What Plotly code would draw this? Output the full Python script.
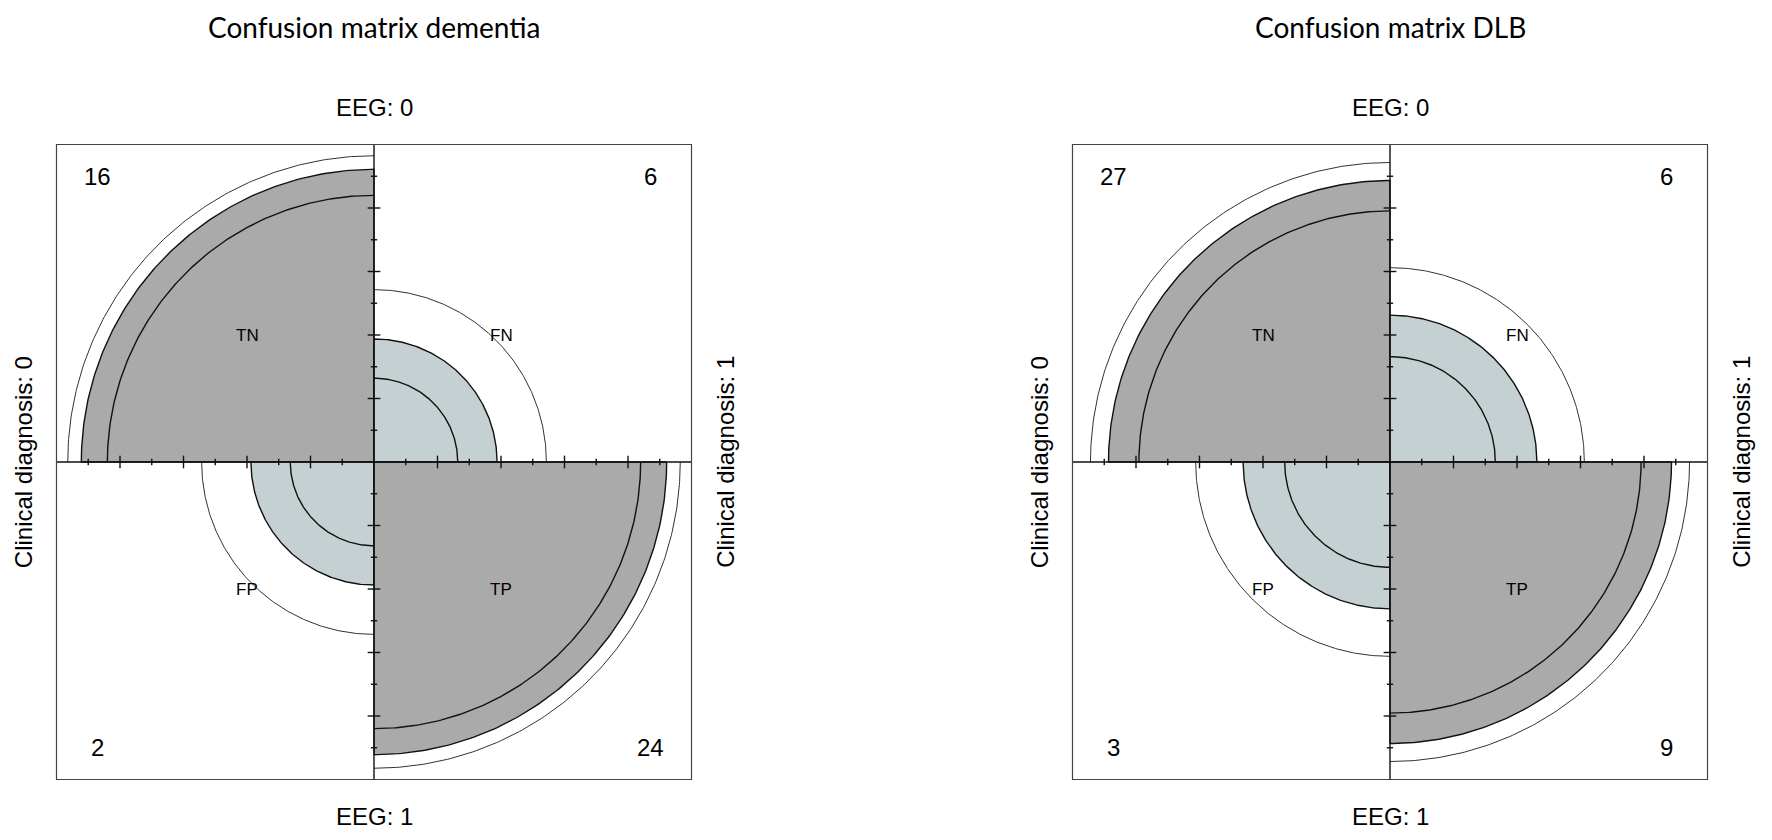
import numpy as np
import plotly.graph_objects as go

# fourfold plots of two confusion matrices (R fourfoldplot style)
# cells in the order: top-left, top-right, bottom-left, bottom-right
cell_labels = ["TN", "FN", "FP", "TP"]
dementia_counts = [16, 6, 2, 24]
dlb_counts = [27, 6, 3, 9]
panel_titles = ["Confusion matrix dementia", "Confusion matrix DLB"]
top_label, bottom_label = "EEG: 0", "EEG: 1"
left_label, right_label = "Clinical diagnosis: 0", "Clinical diagnosis: 1"

# the page body has an 8px margin, so the figure is a bit smaller than the window
W, H = 1756, 824
px = 317.5                      # pixels per unit
centers = [(366, 454), (1382, 454)]
diag_col = "#AAAAAA"
off_col = "#C5D0D3"

# angle range and sign of each quadrant
quads = [(90, 180, -1, 1), (0, 90, 1, 1), (180, 270, -1, -1), (270, 360, 1, -1)]


def radii(odds):
    # margins standardised table with given odds ratio
    s = np.sqrt(odds)
    u = s / (1 + s)
    return np.sqrt(u), np.sqrt(1 - u)


def arc(r, a0, a1, n=150):
    t = np.radians(np.linspace(a0, a1, n))
    return r * np.cos(t), r * np.sin(t)


fig = go.Figure()
layout_axes = {}

for i, counts in enumerate([dementia_counts, dlb_counts]):
    a, b, c, d = counts
    xa = "x" if i == 0 else "x2"
    ya = "y" if i == 0 else "y2"
    odds = a * d / (b * c)
    se = np.sqrt(1 / a + 1 / b + 1 / c + 1 / d)
    z = 1.959964
    r_fit = radii(odds)
    r_lo = radii(odds * np.exp(-z * se))
    r_hi = radii(odds * np.exp(z * se))

    for q, (a0, a1, sx, sy) in enumerate(quads):
        k = 0 if q in (0, 3) else 1
        col = diag_col if k == 0 else off_col
        ax_, ay_ = arc(r_fit[k], a0, a1)
        fig.add_trace(go.Scatter(
            x=np.concatenate([[0], ax_, [0]]), y=np.concatenate([[0], ay_, [0]]),
            xaxis=xa, yaxis=ya, mode="lines", fill="toself", fillcolor=col,
            line=dict(color="#111111", width=1.4), hoverinfo="skip"))
        r_in = min(r_lo[k], r_hi[k])
        r_out = max(r_lo[k], r_hi[k])
        for rr, w, lc in [(r_in, 1.4, "#111111"), (r_out, 1.0, "#333333")]:
            bx, by = arc(rr, a0, a1)
            fig.add_trace(go.Scatter(
                x=bx, y=by, xaxis=xa, yaxis=ya, mode="lines",
                line=dict(color=lc, width=w), hoverinfo="skip"))

    # central cross and ticks
    tx, ty = [-1, 1, None, 0, 0, None], [0, 0, None, -1, 1, None]
    for j in range(-9, 10):
        if j == 0:
            continue
        h = 0.02 if j % 2 == 0 else 0.01
        v = j / 10
        tx += [v, v, None, -h, h, None]
        ty += [-h, h, None, v, v, None]
    fig.add_trace(go.Scatter(x=tx, y=ty, xaxis=xa, yaxis=ya, mode="lines",
                             line=dict(color="#111111", width=1.4), hoverinfo="skip"))

    fig.add_shape(type="rect", x0=-1, x1=1, y0=-1, y1=1, xref=xa, yref=ya,
                  line=dict(color="#444444", width=1.2))

    for q, (a0, a1, sx, sy) in enumerate(quads):
        fig.add_annotation(x=0.87 * sx, y=0.9 * sy, xref=xa, yref=ya, text=str(counts[q]),
                           showarrow=False, font=dict(family="Liberation Sans", size=24, color="black"))
        fig.add_annotation(x=0.4 * sx, y=0.4 * sy, xref=xa, yref=ya, text=cell_labels[q],
                           showarrow=False, font=dict(family="Liberation Sans", size=17, color="black"))

    lab_font = dict(family="Liberation Sans", size=24, color="black")
    fig.add_annotation(x=0, y=1.115, xref=xa, yref=ya, text=top_label, showarrow=False, font=lab_font)
    fig.add_annotation(x=0, y=-1.115, xref=xa, yref=ya, text=bottom_label, showarrow=False, font=lab_font)
    fig.add_annotation(x=-1.105, y=0, xref=xa, yref=ya, text=left_label, textangle=-90,
                       xanchor="center", showarrow=False, font=lab_font)
    fig.add_annotation(x=1.105, y=0, xref=xa, yref=ya, text=right_label, textangle=-90,
                       xanchor="center", showarrow=False, font=lab_font)

    cx, cy = centers[i]
    fig.add_annotation(x=0, y=cy / px, xref=xa, yref=ya, yanchor="top", text=panel_titles[i],
                       showarrow=False, font=dict(family="Lato", size=28, color="black"))

    dom = [i * 0.5, (i + 1) * 0.5]
    xkey = "xaxis" if i == 0 else "xaxis2"
    ykey = "yaxis" if i == 0 else "yaxis2"
    layout_axes[xkey] = dict(domain=dom, range=[(dom[0] * W - cx) / px, (dom[1] * W - cx) / px],
                             visible=False, fixedrange=True, anchor=ya)
    layout_axes[ykey] = dict(domain=[0, 1], range=[(cy - H) / px, cy / px],
                             visible=False, fixedrange=True, anchor=xa)

fig.update_layout(
    width=W, height=H, showlegend=False,
    margin=dict(l=0, r=0, t=0, b=0),
    plot_bgcolor="white", paper_bgcolor="white",
    **layout_axes)

fig.write_html("out.html")
